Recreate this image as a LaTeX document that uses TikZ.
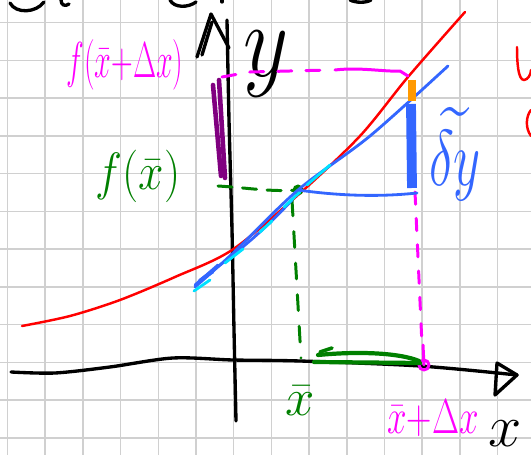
\documentclass[tikz,border=0pt]{standalone}
\usepackage{fix-cm}
\usepackage{amsmath,amssymb}
\usepackage{graphicx}
\usepackage{xcolor}
\usepackage{tikz}
\usetikzlibrary{arrows.meta,calc,positioning}

\definecolor{gridgray}{RGB}{208,208,208}
\definecolor{penred}{RGB}{255,0,0}
\definecolor{penblue}{RGB}{51,102,255}
\definecolor{penmag}{RGB}{255,0,255}
\definecolor{pengreen}{RGB}{0,128,0}
\definecolor{penpurple}{RGB}{128,0,128}
\definecolor{penorange}{RGB}{255,153,0}
\definecolor{pencyan}{RGB}{0,225,255}

\begin{document}
\begin{tikzpicture}[x=0.02cm, y=-0.02cm, line cap=round, line join=round,
  gridline/.style={draw=gridgray, line width=0.9pt},
  ink/.style={draw=black, line width=1.9pt},
  redpen/.style={draw=penred, line width=1.4pt},
  bluepen/.style={draw=penblue, line width=1.6pt},
  magpen/.style={draw=penmag, line width=1.7pt},
  greenpen/.style={draw=pengreen, line width=1.7pt},
  hand/.style={inner sep=0pt}]
% paper grid
\useasboundingbox (0,0) rectangle (531,455);
\fill[white] (0,0) rectangle (531,455);
\foreach \i in {0,...,13} \draw[gridline] ({7.5+37.7*\i},0) -- ({7.5+37.7*\i},455);
\foreach \j in {0,...,11} \draw[gridline] (0,{22.7+37.75*\j}) -- (531,{22.7+37.75*\j});

% cut-off writing at the top
\draw[ink] (10,3) .. controls (16,14) and (36,13) .. (44,2);
\draw[ink] (61,0) .. controls (61,5) and (65,7) .. (69,4);
\draw[ink] (170,0) .. controls (174,8) and (188,8) .. (196,2);
\draw[ink] (222,0) -- (222,2);
\draw[ink] (350,0) .. controls (356,3) and (366,3) .. (371,0);
\draw[redpen] (517,47) .. controls (517,62) and (518,80) .. (524,80) .. controls (528,80) and (531,74) .. (531,70);
\draw[redpen] (531,110) .. controls (526,116) and (525,128) .. (531,136);

% axes
\coordinate (O) at (233,360);
\coordinate (xend) at (517,375);
\coordinate (ytop) at (227,20);
\draw[ink] plot[smooth] coordinates {(11,372) (55,373) (110,367) (173,358) (O) (300,361) (420,366) (xend)};
\draw[ink] (497,363) -- (xend) -- (495,395) -- cycle;
\draw[ink] plot[smooth] coordinates {(236,421) (234,330) (232,230) (229,120) (ytop)};
\draw[ink] (197,57) -- (211,14) -- (229,48);
\draw[ink] (202,55) -- (212,22);
\node[hand, font=\fontsize{50}{50}\selectfont] (ylab) at (266,64) {\scalebox{1}[1.2]{$y$}};
\node[hand, font=\fontsize{34}{34}\selectfont] (xlab) at (505,434) {$x$};

% the curve f
\draw[redpen] plot[smooth] coordinates {(22,326) (70,316) (120,300) (175,277) (232,250) (298,195) (360,136) (408,77) (465,12)};

% points on the curve
\coordinate (P) at (298,190);
\coordinate (Q) at (408,76);
\coordinate (Qx) at (424,365);

% purple mark on the y axis
\draw[draw=penpurple, line width=2.6pt] (213,85) -- (221,176);
\draw[draw=penpurple, line width=2.6pt] (219,80) -- (225,178);

% magenta level f(x+dx)
\draw[magpen, dash pattern=on 8pt off 8pt] (222,77) -- (250,72) -- (330,70);
\draw[magpen] (335,70) .. controls (360,67) and (385,72) .. (400,71) -- (Q);
\draw[magpen, dash pattern=on 7pt off 8pt] (415,192) -- (422,345);
\draw[magpen] (423,345) -- (Qx);
\draw[magpen] (Qx) circle (5);
\node[hand, text=penmag, font=\fontsize{18}{18}\selectfont] (fxdx) at (125,65) {\scalebox{0.95}[1.6]{$f(\bar{x}{+}\Delta x)$}};
\node[hand, text=penmag, font=\fontsize{20}{20}\selectfont] (xdx) at (433,418) {\scalebox{1}[1.4]{$\bar{x}{+}\Delta x$}};

% green level f(x)
\draw[greenpen, dash pattern=on 8pt off 6pt] (218,186) .. controls (250,188) and (270,192) .. (P);
\draw[greenpen, dash pattern=on 9pt off 9pt] (292,200) -- (301,358);
\fill[pengreen] (P) circle (5.5);
\draw[greenpen, line width=2.4pt] (318,355) .. controls (360,351) and (400,353) .. (419,361);
\draw[greenpen, line width=2.4pt] (314,362) -- (420,363);
\draw[greenpen, line width=2pt] (320,352) -- (332,348);
\node[hand, text=pengreen, font=\fontsize{26}{26}\selectfont] (fx) at (138,176) {\scalebox{1}[1.15]{$f(\bar{x})$}};
\node[hand, text=pengreen, font=\fontsize{30}{30}\selectfont] (xbar) at (300,401) {$\bar{x}$};

% tangent line with its arrow, and the cyan trace
\draw[bluepen] plot[smooth] coordinates {(195,287) (232,254) (P) (370,136) (448,66)};
\draw[bluepen] (200,280) .. controls (230,258) and (260,235) .. (292,200);
\draw[bluepen] (195,285) -- (218,265);
\draw[bluepen] (199,281) -- (213,272);
\draw[draw=pencyan, line width=1.6pt] (194,291) -- (210,280);
\draw[draw=pencyan, line width=1.6pt] (225,263) -- (243,249);
\draw[draw=pencyan, line width=1.6pt] (260,232) -- (272,221);
\draw[draw=pencyan, line width=1.6pt] (284,207) -- (300,192);
\draw[draw=pencyan, line width=1.6pt] (307,185) -- (330,165);

% increment along the tangent
\draw[bluepen] (P) .. controls (340,196) and (380,197) .. (417,193);
\draw[draw=penblue, line width=5.6pt, line cap=butt] (411,104) -- (412,188);
\draw[draw=penorange, line width=4.4pt, line cap=butt] (412,80) -- (412,101);
\node[hand, text=penblue, font=\fontsize{30}{30}\selectfont] (dy) at (455,154) {\scalebox{1}[1.5]{$\widetilde{\delta y}$}};
\end{tikzpicture}
\end{document}
